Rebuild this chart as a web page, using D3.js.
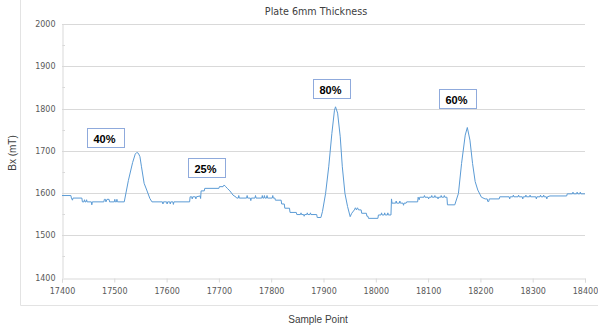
<!DOCTYPE html>
<html>
<head>
<meta charset="utf-8">
<script src="https://cdn.jsdelivr.net/npm/d3@7/dist/d3.min.js"></script>
<style>
  html, body { margin: 0; padding: 0; background: #fff; }
  svg { display: block; }
</style>
</head>
<body>
<div id="chart"></div>
<script>
// Magnetic flux readings along the plate scan
const samplePoints = [
  17400, 17417, 17418, 17420, 17421, 17438, 17439, 17442, 17443, 17444, 17446, 17447, 17448, 17456, 17457, 17458,
  17480, 17481, 17483, 17484, 17486, 17490, 17491, 17500, 17501, 17502, 17504, 17505, 17506, 17519,
  17527, 17535, 17540, 17543, 17546, 17549, 17552, 17557, 17562, 17568, 17572,
  17592, 17593, 17594, 17600, 17601, 17602, 17606, 17607, 17608, 17612, 17613, 17614, 17644,
  17645, 17648, 17649, 17650, 17655, 17656, 17657, 17664, 17665, 17666, 17672, 17673, 17700, 17701, 17708,
  17710, 17713, 17716, 17721, 17727, 17733, 17734,
  17737, 17738, 17739, 17753, 17754, 17755, 17760, 17761, 17762, 17769, 17770, 17771, 17782, 17783, 17784,
  17786, 17787, 17788, 17791, 17792, 17793, 17802, 17803, 17804, 17807,
  17808, 17819, 17820, 17825, 17826, 17835, 17836, 17848, 17849,
  17856, 17857, 17858, 17862, 17863, 17864, 17868, 17869, 17870, 17874, 17875, 17876, 17887, 17888, 17895,
  17898, 17904, 17910, 17916, 17921, 17923, 17927, 17932, 17936, 17941, 17946, 17951, 17954, 17959,
  17961, 17963, 17965, 17967, 17972, 17973, 17982, 17983, 17985, 17986, 18004, 18005,
  18010, 18011, 18012, 18016, 18017, 18018, 18022, 18023, 18024, 18029, 18030, 18031,
  18038, 18039, 18040, 18045, 18046, 18047, 18052, 18053, 18054, 18058, 18059, 18080,
  18081, 18083, 18084, 18092, 18093, 18094, 18100, 18101, 18102, 18106, 18107, 18108, 18112, 18113, 18114,
  18118, 18119, 18120, 18124, 18125, 18126, 18130, 18131, 18132, 18136,
  18137, 18151, 18158, 18164, 18171, 18175, 18180, 18185, 18190, 18195, 18202, 18209, 18213, 18214, 18216, 18217,
  18236, 18237, 18255, 18256, 18257, 18262, 18263, 18264, 18272, 18273, 18274, 18280, 18281, 18282,
  18286, 18287, 18288, 18294, 18295, 18296, 18306, 18307, 18308, 18314, 18315, 18316, 18320, 18321, 18322,
  18326, 18327, 18328, 18333, 18365, 18366, 18376, 18377, 18378, 18384, 18385, 18386, 18390, 18391, 18392, 18400
];
const bxValues = [
  1594, 1594, 1588, 1583, 1588, 1588, 1579, 1579, 1584, 1579, 1579, 1584, 1579, 1579, 1572, 1579,
  1579, 1585, 1585, 1579, 1585, 1585, 1579, 1579, 1585, 1579, 1579, 1585, 1579, 1579,
  1630, 1672, 1692, 1696, 1694, 1686, 1662, 1623, 1607, 1587, 1579,
  1579, 1574, 1579, 1579, 1574, 1579, 1579, 1574, 1579, 1579, 1573, 1579, 1579,
  1591, 1591, 1586, 1591, 1591, 1586, 1591, 1593, 1587, 1605, 1605, 1611, 1611, 1615, 1615,
  1619, 1615, 1611, 1605, 1595, 1590, 1588,
  1588, 1594, 1588, 1588, 1594, 1588, 1588, 1582, 1588, 1588, 1594, 1588, 1588, 1594, 1588,
  1588, 1594, 1588, 1588, 1594, 1588, 1588, 1594, 1588, 1588,
  1583, 1583, 1574, 1574, 1564, 1564, 1554, 1554, 1549,
  1549, 1553, 1549, 1549, 1545, 1549, 1549, 1553, 1549, 1549, 1553, 1549, 1549, 1542, 1542,
  1556, 1599, 1662, 1741, 1796, 1804, 1789, 1733, 1662, 1599, 1568, 1544, 1552, 1560,
  1565, 1560, 1565, 1560, 1560, 1552, 1552, 1545, 1545, 1540, 1540, 1548,
  1548, 1553, 1548, 1548, 1553, 1548, 1548, 1553, 1548, 1548, 1586, 1576,
  1576, 1581, 1576, 1576, 1581, 1576, 1576, 1571, 1576, 1576, 1579, 1579,
  1590, 1584, 1590, 1590, 1594, 1590, 1590, 1586, 1590, 1590, 1594, 1590, 1590, 1594, 1590,
  1590, 1586, 1590, 1590, 1594, 1590, 1590, 1594, 1590, 1590,
  1572, 1572, 1599, 1670, 1737, 1755, 1725, 1670, 1627, 1607, 1590, 1586, 1586, 1580, 1580, 1586,
  1586, 1591, 1591, 1586, 1591, 1591, 1595, 1591, 1591, 1595, 1591, 1591, 1586, 1591,
  1591, 1595, 1591, 1591, 1595, 1591, 1591, 1586, 1591, 1591, 1595, 1591, 1591, 1595, 1591,
  1591, 1586, 1591, 1593, 1593, 1598, 1598, 1602, 1598, 1598, 1602, 1598, 1598, 1602, 1598, 1598
];

// Axis ticks
const xTicks = [17400, 17500, 17600, 17700, 17800, 17900, 18000, 18100, 18200, 18300, 18400];
const yTicks = [1400, 1500, 1600, 1700, 1800, 1900, 2000];
const yMinorTicks = [1450, 1550, 1650, 1750, 1850, 1950];

// Defect-depth annotations, anchored at their top-left corner in data space
const defectLabels = ["40%", "25%", "80%", "60%"];
const defectSample = [17448, 17641, 17880, 18121];
const defectBx = [1754, 1683, 1870, 1847];

const W = 598, H = 327;
const plot = { left: 62, right: 585, top: 24, bottom: 277.5 };

const svg = d3.select("#chart").append("svg")
  .attr("width", W).attr("height", H);

const x = d3.scaleLinear().domain([17400, 18400]).range([plot.left, plot.right]);
const y = d3.scaleLinear().domain([1400, 2000]).range([plot.bottom, plot.top]);

// Chart-area frame (left and bottom edges visible)
svg.append("path")
  .attr("d", `M20.5,0 V305.5 H${W}`)
  .attr("fill", "none").attr("stroke", "#e3e3e3").attr("stroke-width", 1);

// Horizontal gridlines
svg.append("g").selectAll("line")
  .data(yTicks.filter(d => d !== 1400))
  .join("line")
  .attr("x1", plot.left).attr("x2", plot.right)
  .attr("y1", d => Math.round(y(d)) + 0.5).attr("y2", d => Math.round(y(d)) + 0.5)
  .attr("stroke", "#d9d9d9").attr("stroke-width", 1);

// Y axis
const yAxis = svg.append("g")
  .attr("transform", `translate(${plot.left + 0.5},0)`)
  .call(d3.axisLeft(y).tickValues(yTicks).tickSize(0).tickPadding(7).tickFormat(d3.format("d")));
yAxis.select(".domain").attr("stroke", "#d9d9d9");
yAxis.selectAll("text")
  .attr("font-family", "DejaVu Sans, sans-serif").attr("font-size", 8).attr("fill", "#595959");

svg.append("g").selectAll("line")
  .data(yMinorTicks)
  .join("line")
  .attr("x1", plot.left + 0.5).attr("x2", plot.left + 3)
  .attr("y1", d => Math.round(y(d)) + 0.5).attr("y2", d => Math.round(y(d)) + 0.5)
  .attr("stroke", "#d9d9d9");

// X axis
const xAxis = svg.append("g")
  .attr("transform", `translate(0,${Math.round(plot.bottom) + 0.5})`)
  .call(d3.axisBottom(x).tickValues(xTicks).tickSize(4).tickPadding(6).tickFormat(d3.format("d")));
xAxis.select(".domain").attr("stroke", "#d9d9d9");
xAxis.selectAll(".tick line").attr("stroke", "#d9d9d9");
xAxis.selectAll("text")
  .attr("font-family", "DejaVu Sans, sans-serif").attr("font-size", 8).attr("fill", "#595959");

// Signal trace
const series = samplePoints.map((s, i) => ({ s, v: bxValues[i] }));
svg.append("path")
  .datum(series)
  .attr("d", d3.line().x(d => x(d.s)).y(d => y(d.v)))
  .attr("fill", "none")
  .attr("stroke", "#5b9bd5")
  .attr("stroke-width", 1)
  .attr("stroke-linejoin", "round");

// Annotation boxes
const notes = svg.append("g").selectAll("g")
  .data(defectLabels.map((t, i) => ({ t, s: defectSample[i], v: defectBx[i] })))
  .join("g")
  .attr("transform", d => `translate(${Math.round(x(d.s)) + 0.5},${Math.round(y(d.v)) + 0.5})`);
notes.append("rect")
  .attr("width", 37).attr("height", 19)
  .attr("fill", "#fff").attr("stroke", "#8faadc").attr("stroke-width", 1);
notes.append("text")
  .attr("x", 6).attr("y", 14)
  .attr("font-family", "Liberation Sans, Arial, sans-serif")
  .attr("font-weight", "bold").attr("font-size", 11).attr("fill", "#000")
  .text(d => d.t);

// Titles
svg.append("text")
  .attr("x", 316).attr("y", 15)
  .attr("text-anchor", "middle")
  .attr("font-family", "DejaVu Sans, sans-serif").attr("font-size", 9.6).attr("fill", "#404040")
  .text("Plate 6mm Thickness");

svg.append("text")
  .attr("transform", "translate(16,153) rotate(-90)")
  .attr("text-anchor", "middle")
  .attr("font-family", "Liberation Sans, Arial, sans-serif").attr("font-size", 10).attr("fill", "#404040")
  .text("Bx (mT)");

svg.append("text")
  .attr("x", 318).attr("y", 323)
  .attr("text-anchor", "middle")
  .attr("font-family", "Liberation Sans, Arial, sans-serif").attr("font-size", 10).attr("fill", "#404040")
  .text("Sample Point");
</script>
</body>
</html>
